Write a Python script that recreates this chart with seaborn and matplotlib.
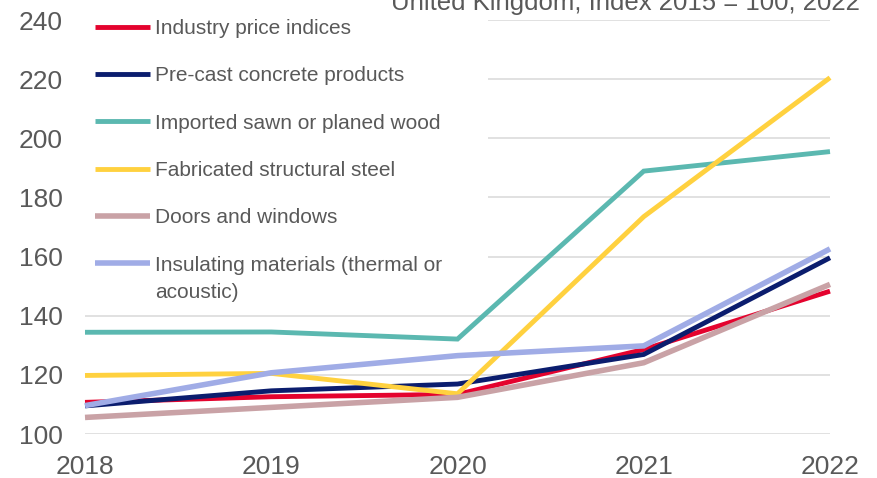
import matplotlib
matplotlib.use("Agg")
import matplotlib.pyplot as plt
from matplotlib.patches import Rectangle
import seaborn as sns
import pandas as pd

# Data
years = [2018, 2019, 2020, 2021, 2022]
industry = [110.7, 112.6, 113.4, 128.6, 148.3]
precast = [109.5, 114.6, 116.9, 126.9, 159.6]
wood = [134.4, 134.5, 132.1, 188.9, 195.5]
steel = [119.8, 120.5, 113.6, 173.5, 220.5]
doors = [105.6, 109.0, 112.4, 124.1, 150.6]
insulating = [109.6, 120.7, 126.5, 129.8, 162.6]

labels = [
    "Industry price indices",
    "Pre-cast concrete products",
    "Imported sawn or planed wood",
    "Fabricated structural steel",
    "Doors and windows",
    "Insulating materials (thermal or",
]
label_tail = "acoustic)"  # second line of the last legend label
colors = ["#E4032E", "#0B1D6E", "#5BB8B0", "#FFD13F", "#C9A2A6", "#A0ACE6"]
widths = [3.5, 3.5, 3.5, 3.5, 4.0, 4.0]

series = [industry, precast, wood, steel, doors, insulating]
df = pd.concat(
    [pd.DataFrame({"year": years, "value": vals, "series": name})
     for name, vals in zip(labels, series)],
    ignore_index=True,
)

sns.set_style("white")
plt.rcParams["font.family"] = ["Liberation Sans", "DejaVu Sans"]
text_col = "#595959"

fig = plt.figure(figsize=(8.77, 4.78), dpi=100)
ax = fig.add_axes([85 / 877, 1 - 434 / 478, 745 / 877, 414 / 478])

sns.lineplot(data=df, x="year", y="value", hue="series", palette=colors,
             hue_order=labels, ax=ax, legend=False)
for line, lw in zip(ax.lines, widths):
    line.set_linewidth(lw)
    line.set_clip_on(False)
    line.set_solid_capstyle("butt")
    line.set_solid_joinstyle("miter")

ax.set_xlim(2018, 2022)
ax.set_ylim(100, 240)
ax.set_yticks(range(100, 241, 20))
ax.set_xticks(years)
ax.grid(axis="y", color="#D9D9D9", lw=1.1)
ax.set_axisbelow(True)
sns.despine(ax=ax, left=True, bottom=True)
ax.tick_params(axis="y", length=0, pad=16, labelsize=19, labelcolor=text_col)
ax.tick_params(axis="x", length=0, pad=15, labelsize=19, labelcolor=text_col)
ax.set_xlabel("")
ax.set_ylabel("")

# white legend backdrop hiding the gridlines behind it
ax.add_patch(Rectangle((0, 0.3116), 0.541, 0.72, transform=ax.transAxes,
                       facecolor="white", edgecolor="none", zorder=1,
                       clip_on=False))

leg = ax.legend(
    ax.lines, labels,
    loc="upper left",
    bbox_to_anchor=(95 / 877, 1 - 19 / 478),
    bbox_transform=fig.transFigure,
    fontsize=15,
    handlelength=2.65,
    handletextpad=0.25,
    labelspacing=1.36,
    borderpad=0,
    borderaxespad=0,
    frameon=False,
)
for t in leg.get_texts():
    t.set_color(text_col)
fig.text(155 / 877, 1 - 298 / 478, label_tail, ha="left", va="baseline",
         fontsize=15, color=text_col)

fig.text(1 - 17 / 877, 1 - 10 / 478, "United Kingdom, Index 2015 = 100, 2022",
         ha="right", va="baseline", fontsize=18.5, color=text_col)

fig.savefig("out.png", dpi=100)
